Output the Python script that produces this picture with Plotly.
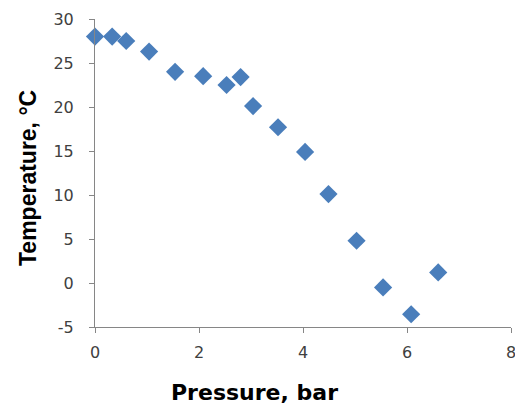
import plotly.graph_objects as go

pressure_bar = [0.0, 0.33, 0.60, 1.04, 1.54, 2.08, 2.53, 2.80, 3.04, 3.52, 4.04, 4.49, 5.03, 5.54, 6.08, 6.60]
temperature_c = [28.0, 28.0, 27.5, 26.3, 24.0, 23.5, 22.5, 23.4, 20.1, 17.7, 14.9, 10.1, 4.8, -0.5, -3.55, 1.2]

x_ticks = [0, 2, 4, 6, 8]
y_ticks = [-5, 0, 5, 10, 15, 20, 25, 30]
y_tick_labels = ["-5", "0", "5", "10", "15", "20", "25", "30"]

fig = go.Figure()
fig.add_trace(go.Scatter(
    x=pressure_bar, y=temperature_c, mode="markers",
    marker=dict(symbol="diamond", size=14, color="#4A7EBB", line=dict(width=0)),
    cliponaxis=False, showlegend=False,
))

# page body adds an 8px offset; figure is sized to compensate
axis_font = dict(family="DejaVu Sans", size=16, color="#404040")
fig.update_layout(
    width=515, height=400,
    margin=dict(l=87, r=12, t=11, b=81),
    paper_bgcolor="white", plot_bgcolor="white",
    xaxis=dict(range=[0, 8], tickvals=x_ticks, showgrid=False, zeroline=False,
               showline=True, linecolor="#868686", linewidth=1,
               ticks="outside", ticklen=5, tickcolor="#868686",
               tickfont=axis_font, ticklabelstandoff=6, automargin=False),
    yaxis=dict(range=[-5, 30], tickvals=y_ticks, ticktext=y_tick_labels,
               showgrid=False, zeroline=False,
               showline=True, linecolor="#868686", linewidth=1,
               ticks="outside", ticklen=5, tickcolor="#868686",
               tickfont=axis_font, ticklabelstandoff=12, automargin=False),
    annotations=[
        dict(text="<b>Pressure, bar</b>", xref="paper", yref="paper",
             x=(254 - 95) / 416, y=-(392 - 327) / 308, xanchor="center", yanchor="middle",
             showarrow=False, font=dict(family="DejaVu Sans", size=22, color="black")),
        dict(text="<b>Temperature, °C</b>", xref="paper", yref="paper",
             x=(28 - 95) / 416, y=(327 - 178) / 308, xanchor="center", yanchor="middle",
             textangle=-90, showarrow=False,
             font=dict(family="Liberation Sans", size=23, color="black")),
    ],
)
fig.write_html("out.html")
